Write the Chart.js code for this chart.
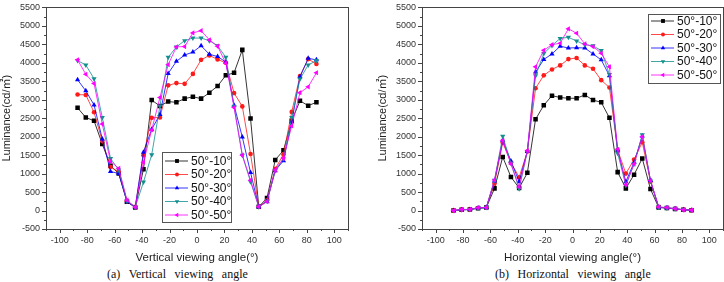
<!DOCTYPE html>
<html>
<head>
<meta charset="utf-8">
<script src="https://cdn.jsdelivr.net/npm/chart.js@4.4.1/dist/chart.umd.min.js"></script>
<style>
html, body { margin: 0; padding: 0; background: #fff; }
body { width: 724px; height: 282px; position: relative; overflow: hidden; }
.box { position: absolute; top: -4px; height: 269px; }
#boxV { left: 0; width: 360px; }
#boxH { left: 376px; width: 353px; }
.cap { position: absolute; top: 267px; line-height: 14px; font-family: "Liberation Serif", "Times New Roman", serif; font-size: 12px; word-spacing: 1.3px; color: #111; white-space: pre; }
</style>
</head>
<body>
<div class="box" id="boxV"><canvas id="chartV" width="360" height="269"></canvas></div>
<div class="box" id="boxH"><canvas id="chartH" width="353" height="269"></canvas></div>
<div class="cap" style="left:107px">(a)  Vertical  viewing  angle</div>
<div class="cap" style="left:495px">(b)  Horizontal  viewing  angle</div>

<script>
// ========== DATA ==========
const angles = [-87, -81, -75, -69, -63, -57, -51, -45, -39, -33, -27, -21, -15, -9, -3, 3, 9, 15, 21, 27, 33, 39, 45, 51, 57, 63, 69, 75, 81, 87];
const seriesNames = ['50°-10°', '50°-20°', '50°-30°', '50°-40°', '50°-50°'];

// vertical viewing angle
const vert10 = [2780, 2520, 2430, 1800, 1210, 1000, 240, 80, 1120, 2990, 2830, 2950, 2930, 3030, 3080, 3030, 3190, 3370, 3660, 3730, 4350, 2490, 100, 340, 1370, 1630, 2430, 2970, 2840, 2930];
const vert20 = [3140, 3130, 2660, 1880, 1180, 1050, 250, 100, 1500, 2510, 2520, 3390, 3450, 3430, 3700, 4080, 4200, 4090, 4000, 3180, 2820, 1530, 100, 280, 1130, 1520, 2670, 3640, 4100, 3970];
const vert30 = [3540, 3240, 2860, 1940, 1060, 1000, 240, 90, 1580, 2200, 2600, 3710, 4040, 4210, 4290, 4460, 4230, 4170, 4020, 2850, 1990, 1030, 100, 250, 1080, 1350, 2400, 3620, 4120, 4080];
const vert40 = [4060, 3940, 3570, 2520, 1410, 1100, 260, 90, 770, 1510, 2830, 4150, 4430, 4600, 4670, 4670, 4600, 4460, 4150, 2820, 1500, 780, 100, 250, 1080, 1400, 2520, 3560, 3940, 4060];
const vert50 = [4080, 3690, 3440, 2340, 1330, 1140, 280, 90, 1310, 2180, 3060, 3950, 4430, 4440, 4810, 4870, 4620, 4450, 3990, 2790, 1500, 820, 100, 240, 1100, 1420, 2290, 3190, 3350, 3730];

// horizontal viewing angle
const hor10 = [0, 20, 30, 60, 80, 600, 1450, 910, 610, 1020, 2470, 2850, 3110, 3060, 3040, 3040, 3130, 2990, 2930, 2510, 1040, 600, 970, 1410, 580, 80, 70, 40, 20, 10];
const hor20 = [0, 20, 30, 70, 80, 730, 1840, 1300, 900, 1600, 3310, 3660, 3820, 3930, 4100, 4130, 3930, 3840, 3530, 3330, 1640, 1000, 1380, 1850, 780, 90, 70, 50, 20, 10];
const hor30 = [0, 20, 30, 70, 80, 800, 1900, 1340, 780, 1600, 3750, 4090, 4240, 4450, 4400, 4410, 4400, 4240, 4080, 3650, 1630, 780, 1300, 2020, 810, 90, 70, 50, 20, 10];
const hor40 = [0, 20, 30, 70, 80, 820, 2010, 1290, 590, 1600, 3650, 4250, 4470, 4660, 4690, 4590, 4490, 4460, 4330, 3680, 1550, 680, 1260, 2050, 800, 90, 70, 50, 20, 10];
const hor50 = [0, 30, 30, 80, 80, 830, 1900, 1260, 640, 1620, 3890, 4340, 4490, 4530, 4920, 4800, 4510, 4440, 4260, 3890, 1660, 700, 1260, 2000, 810, 100, 80, 50, 20, 10];

// axis ticks
const xTicks = [-110, -100, -90, -80, -70, -60, -50, -40, -30, -20, -10, 0, 10, 20, 30, 40, 50, 60, 70, 80, 90, 100, 110];
const yMin = -500, yMax = 5500;

// ========== STYLE ==========
const colors = ['#000000', '#ff1a1a', '#0000ff', '#128f8f', '#ff00ff'];
const pointStyles = ['rect', 'circle', 'triangle', 'triangle', 'triangle'];
const rotations = [0, 0, 0, 180, 270];
const radii = [3.2, 2.3, 3, 3, 3];
const FONT = '"Liberation Sans", Arial, "Noto Sans CJK SC", sans-serif';

function makeDatasets(lists) {
    return lists.map((vals, i) => ({
        label: seriesNames[i],
        data: angles.map((a, k) => ({ x: a, y: vals[k] })),
        borderColor: colors[i],
        backgroundColor: colors[i],
        borderWidth: 0.8,
        pointStyle: pointStyles[i],
        rotation: rotations[i],
        pointRadius: radii[i],
        pointBorderWidth: 0,
        order: 4 - i,
        tension: 0
    }));
}

// frame + tick marks + legend box
const framePlugin = {
    id: 'frame',
    afterDraw(chart, args, opts) {
        const ctx = chart.ctx;
        const a = chart.chartArea;
        const xs = chart.scales.x, ys = chart.scales.y;
        ctx.save();
        ctx.strokeStyle = '#444';
        ctx.lineWidth = 1;
        ctx.strokeRect(Math.round(a.left) + 0.5, Math.round(a.top) + 0.5, Math.round(a.right - a.left), Math.round(a.bottom - a.top));
        ctx.beginPath();
        xs.ticks.forEach(t => {
            const px = Math.round(xs.getPixelForValue(t.value)) + 0.5;
            const len = (t.value % 20 === 0) ? 4 : 2;
            ctx.moveTo(px, a.bottom); ctx.lineTo(px, a.bottom + len);
        });
        ys.ticks.forEach(t => {
            const py = Math.round(ys.getPixelForValue(t.value)) + 0.5;
            const len = (t.value % 500 === 0) ? 4 : 2;
            ctx.moveTo(a.left, py); ctx.lineTo(a.left - len, py);
        });
        ctx.stroke();

        // legend
        const L = opts.legend;
        ctx.fillStyle = '#fff';
        ctx.fillRect(L.x, L.y, L.w, L.h);
        ctx.strokeStyle = '#555';
        ctx.strokeRect(L.x + 0.5, L.y + 0.5, L.w, L.h);
        ctx.font = '12px ' + FONT;
        ctx.textBaseline = 'middle';
        chart.data.datasets.forEach((ds, i) => {
            const y = L.y + L.first + i * L.step;
            ctx.strokeStyle = ds.borderColor;
            ctx.lineWidth = 0.8;
            ctx.beginPath();
            ctx.moveTo(L.x + 3, y); ctx.lineTo(L.x + 26, y);
            ctx.stroke();
            ctx.fillStyle = ds.backgroundColor;
            Chart.helpers.drawPoint(ctx, { pointStyle: ds.pointStyle, rotation: ds.rotation, radius: ds.pointRadius * 0.85, borderWidth: 0 }, L.x + 15, y);
            ctx.fillStyle = '#111';
            ctx.fillText(ds.label, L.x + 29, y + 0.5);
        });
        ctx.restore();
    }
};

function buildChart(id, lists, xTitle, legend, rightPad) {
    return new Chart(document.getElementById(id), {
        type: 'line',
        data: { datasets: makeDatasets(lists) },
        plugins: [framePlugin],
        options: {
            responsive: false,
            animation: false,
            devicePixelRatio: 1,
            layout: { padding: { top: 0, right: rightPad, left: 0, bottom: 0 } },
            plugins: {
                legend: { display: false },
                tooltip: { enabled: false },
                frame: { legend: legend }
            },
            scales: {
                x: {
                    type: 'linear',
                    min: -110,
                    max: 110,
                    afterBuildTicks: s => { s.ticks = xTicks.map(v => ({ value: v })); },
                    afterFit: s => { s.height = 36; },
                    grid: { display: false, drawTicks: false },
                    border: { display: false },
                    ticks: {
                        autoSkip: false, maxRotation: 0, padding: 6,
                        color: '#333', font: { family: FONT, size: 9 },
                        callback: v => (v % 20 === 0 && Math.abs(v) <= 100) ? String(v) : ''
                    },
                    title: { display: true, text: xTitle, color: '#222', font: { family: FONT, size: 11.5 }, padding: { top: 2, bottom: 0 } }
                },
                y: {
                    min: yMin,
                    max: yMax,
                    afterFit: s => { s.width = 46; },
                    grid: { display: false, drawTicks: false },
                    border: { display: false },
                    ticks: {
                        stepSize: 250, autoSkip: false, padding: 6,
                        color: '#333', font: { family: FONT, size: 9 },
                        callback: v => (v % 500 === 0) ? String(v) : ''
                    },
                    title: { display: true, text: 'Luminance(cd/㎡)', color: '#222', font: { family: FONT, size: 11 }, padding: { top: 0, bottom: 0 } }
                }
            }
        }
    });
}

// legend boxes are in canvas coordinates (canvas top is at page y = -4)
buildChart('chartV', [vert10, vert20, vert30, vert40, vert50], 'Vertical viewing angle(°)',
    { x: 162, y: 156, w: 69, h: 70, first: 9, step: 13.5 }, 12);
buildChart('chartH', [hor10, hor20, hor30, hor40, hor50], 'Horizontal viewing angle(°)',
    { x: 272, y: 18, w: 72, h: 69, first: 7, step: 13.5 }, 1);
</script>
</body>
</html>
